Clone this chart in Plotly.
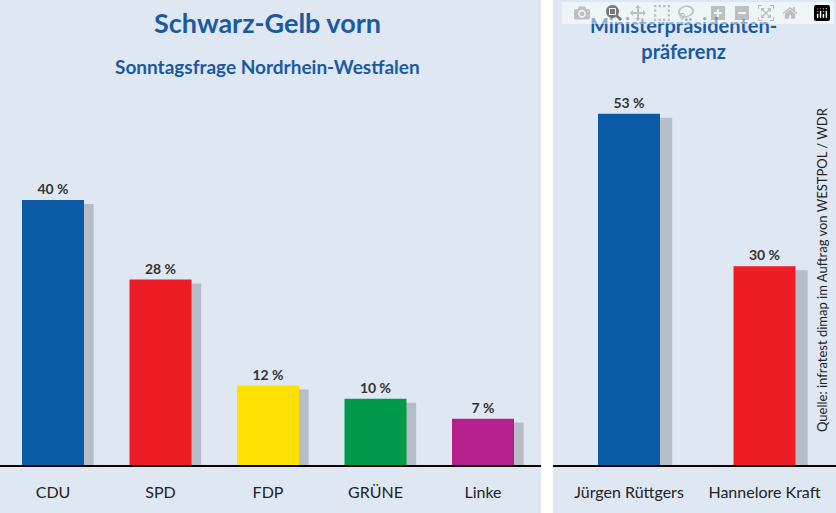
import plotly.graph_objects as go

parties = ["CDU", "SPD", "FDP", "GRÜNE", "Linke"]
party_values = [40, 28, 12, 10, 7]
party_colors = ["#0a5aa6", "#ee1c25", "#ffe000", "#009a4a", "#b5208f"]
candidates = ["Jürgen Rüttgers", "Hannelore Kraft"]
candidate_values = [53, 30]
candidate_colors = ["#0a5aa6", "#ee1c25"]

W, H = 836, 513
BLUE = "#1a5aa0"
fig = go.Figure()

def add_bars(cats, vals, cols, xa, ya, w):
    fig.add_trace(go.Bar(x=cats, y=[v - 0.6 for v in vals], xaxis=xa, yaxis=ya,
                         width=w, offset=-w/2 + 0.09, marker=dict(color="rgba(60,60,70,0.25)", line_width=0),
                         hoverinfo="skip", showlegend=False))
    fig.add_trace(go.Bar(x=cats, y=vals, xaxis=xa, yaxis=ya, width=w, offset=-w/2,
                         marker=dict(color=cols, line_width=0),
                         text=[f"<b>{v} %</b>" for v in vals], textposition="outside",
                         textfont=dict(size=14, color="#333333", family="Lato"),
                         cliponaxis=False, showlegend=False))

add_bars(parties, party_values, party_colors, "x", "y", 62/107.5)
add_bars(candidates, candidate_values, candidate_colors, "x2", "y2", 62/135.5)

ytop = 465 / 6.625
ydom = [48/H, 1]
axcommon = dict(showgrid=False, showline=True, linecolor="black", linewidth=2, ticks="",
                tickfont=dict(size=16, color="#222222", family="Lato"), ticklabelstandoff=12,
                fixedrange=True)
fig.update_layout(
    width=W, height=H, margin=dict(l=0, r=0, t=0, b=0),
    paper_bgcolor="white", plot_bgcolor="rgba(0,0,0,0)", barmode="overlay",
    xaxis=dict(domain=[0, 541/W], range=[-53/107.5, -53/107.5 + 541/107.5], **axcommon),
    xaxis2=dict(domain=[553/W, 1], range=[-76/135.5, -76/135.5 + 283/135.5], **axcommon),
    yaxis=dict(domain=ydom, range=[0, ytop], visible=False),
    yaxis2=dict(domain=ydom, range=[0, ytop], visible=False, anchor="x2"),
    shapes=[
        dict(type="rect", xref="paper", yref="paper", x0=0, x1=541/W, y0=0, y1=1,
             fillcolor="#dfe8f2", line_width=0, layer="below"),
        dict(type="rect", xref="paper", yref="paper", x0=553/W, x1=1, y0=0, y1=1,
             fillcolor="#dfe8f2", line_width=0, layer="below"),
    ],
    annotations=[
        dict(text="<b>Schwarz-Gelb vorn</b>", x=267/W, y=1-22/H, xref="paper", yref="paper",
             xanchor="center", yanchor="middle",
             showarrow=False, font=dict(size=27, color=BLUE, family="Lato")),
        dict(text="<b>Sonntagsfrage Nordrhein-Westfalen</b>", x=267/W, y=1-67/H, xref="paper", yref="paper",
             xanchor="center", yanchor="middle",
             showarrow=False, font=dict(size=19, color=BLUE, family="Lato")),
        dict(text="<b>Ministerpräsidenten-<br>präferenz</b>", x=683/W, y=1-38/H, xref="paper", yref="paper",
             xanchor="center", yanchor="middle",
             showarrow=False, font=dict(size=20, color=BLUE, family="Lato")),
        dict(text="Quelle: infratest dimap im Auftrag von WESTPOL / WDR", x=822/W, y=1-270/H,
             xref="paper", yref="paper", showarrow=False, textangle=-90,
             xanchor="center", yanchor="middle",
             font=dict(size=13, color="#222222", family="Lato")),
    ],
)
fig.write_html("out.html", post_script="document.body.style.margin='0';")
